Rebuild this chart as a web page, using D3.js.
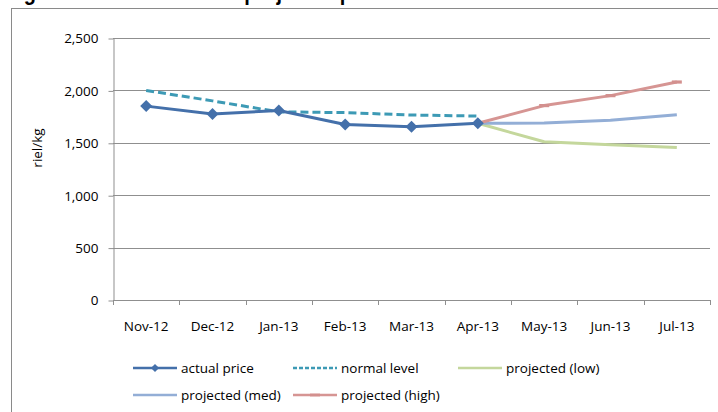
<!DOCTYPE html>
<html>
<head>
<meta charset="utf-8">
<script src="https://cdn.jsdelivr.net/npm/d3@7"></script>
<style>
  body { margin: 0; background: #fff; }
  svg { display: block; font-family: "Open Sans", sans-serif; }
</style>
</head>
<body>
<svg width="718" height="412"></svg>
<script>
var months = ['Nov-12', 'Dec-12', 'Jan-13', 'Feb-13', 'Mar-13', 'Apr-13', 'May-13', 'Jun-13', 'Jul-13'];
var actualPrice = [1850, 1775, 1808, 1675, 1652, 1686, null, null, null];
var normalLevel = [2000, 1900, 1795, 1788, 1765, 1755, null, null, null];
var projectedLow = [null, null, null, null, null, 1686, 1510, 1482, 1455];
var projectedMed = [null, null, null, null, null, 1686, 1688, 1715, 1768];
var projectedHigh = [null, null, null, null, null, 1686, 1855, 1950, 2080];
var yTicks = [0, 500, 1000, 1500, 2000, 2500];

var series = [
    {name: 'actual price', values: actualPrice, color: '#4470aa', width: 3, dash: null, marker: 'diamond'},
    {name: 'normal level', values: normalLevel, color: '#3d9ab5', width: 3, dash: '8,4', marker: null},
    {name: 'projected (low)', values: projectedLow, color: '#c4d79c', width: 3, dash: null, marker: null},
    {name: 'projected (med)', values: projectedMed, color: '#93aed6', width: 3, dash: null, marker: null},
    {name: 'projected (high)', values: projectedHigh, color: '#d69593', width: 3, dash: null, marker: 'dash'}
];

var svg = d3.select('svg');

// title of the page above, cut off at the top edge
svg.append('text')
    .attr('transform', 'translate(6,0) scale(0.87,1)')
    .style('font-family', '"Liberation Sans", Arial, sans-serif')
    .style('font-weight', 'bold')
    .style('font-size', '23px')
    .text('Figure 3: Actual rice and projected price');

// chart border
svg.append('rect')
    .attr('x', 11.5).attr('y', 8.5)
    .attr('width', 720).attr('height', 420)
    .attr('fill', 'none')
    .attr('stroke', '#8a8a8a');

var x = d3.scaleBand().domain(months).range([113, 710]).padding(0);
var y = d3.scaleLinear().domain([0, 2500]).range([300, 38]);

function cx(i) { return x(months[i]) + x.bandwidth() / 2; }

// gridlines
svg.append('g')
    .selectAll('line')
    .data(yTicks.slice(1))
    .join('line')
    .attr('x1', 113).attr('x2', 710)
    .attr('y1', function (d) { return Math.round(y(d)) + 0.5; })
    .attr('y2', function (d) { return Math.round(y(d)) + 0.5; })
    .attr('stroke', '#8f8f8f');

// y axis
var yAxis = svg.append('g')
    .attr('transform', 'translate(113.5,0.5)')
    .call(d3.axisLeft(y).tickValues(yTicks).tickFormat(d3.format(',')).tickSize(5).tickPadding(10).tickSizeOuter(0));
yAxis.select('.domain').attr('stroke', '#8f8f8f');
yAxis.selectAll('.tick line').attr('stroke', '#8f8f8f');
yAxis.selectAll('.tick text')
    .style('font-family', '"Open Sans", sans-serif')
    .style('font-size', '13.5px')
    .attr('fill', '#000');

// x axis
svg.append('line')
    .attr('x1', 113).attr('x2', 710.5)
    .attr('y1', 300.5).attr('y2', 300.5)
    .attr('stroke', '#8f8f8f');
var edges = months.map(function (m) { return x(m); }).concat([x.range()[1]]);
svg.append('g')
    .selectAll('line')
    .data(edges)
    .join('line')
    .attr('x1', function (d) { return Math.round(d) + 0.5; })
    .attr('x2', function (d) { return Math.round(d) + 0.5; })
    .attr('y1', 300).attr('y2', 305)
    .attr('stroke', '#8f8f8f');
svg.append('g')
    .selectAll('text')
    .data(months)
    .join('text')
    .attr('x', function (d, i) { return cx(i); })
    .attr('y', 331)
    .attr('text-anchor', 'middle')
    .style('font-size', '13.5px')
    .text(function (d) { return d; });

// y axis title
svg.append('text')
    .attr('transform', 'translate(42,148) rotate(-90)')
    .attr('text-anchor', 'middle')
    .style('font-size', '13.5px')
    .text('riel/kg');

// lines
var line = d3.line()
    .defined(function (d) { return d != null; })
    .x(function (d, i) { return cx(i); })
    .y(function (d) { return y(d); });

var order = [2, 3, 4, 1, 0];
order.forEach(function (k) {
    var s = series[k];
    svg.append('path')
        .datum(s.values)
        .attr('d', line)
        .attr('fill', 'none')
        .attr('stroke', s.color)
        .attr('stroke-width', s.width)
        .attr('stroke-dasharray', s.dash)
        .attr('stroke-linejoin', 'round');

    var pts = s.values.map(function (v, i) { return {v: v, i: i}; })
        .filter(function (d) { return d.v != null; });
    if (s.marker === 'diamond') {
        svg.append('g')
            .selectAll('path')
            .data(pts)
            .join('path')
            .attr('d', d3.symbol(d3.symbolSquare, 72))
            .attr('transform', function (d) { return 'translate(' + cx(d.i) + ',' + y(d.v) + ') rotate(45)'; })
            .attr('fill', s.color);
    } else if (s.marker === 'dash') {
        svg.append('g')
            .selectAll('line')
            .data(pts.slice(1))
            .join('line')
            .attr('x1', function (d) { return cx(d.i) - 5; })
            .attr('x2', function (d) { return cx(d.i) + 5; })
            .attr('y1', function (d) { return y(d.v); })
            .attr('y2', function (d) { return y(d.v); })
            .attr('stroke', '#d3908e')
            .attr('stroke-width', 3.2);
    }
});

// legend
var legendPos = [
    {x: 133, y: 368}, {x: 293, y: 368}, {x: 458, y: 368},
    {x: 133, y: 395}, {x: 293, y: 395}
];
var lg = svg.append('g')
    .selectAll('g')
    .data(series)
    .join('g')
    .attr('transform', function (d, i) { return 'translate(' + legendPos[i].x + ',' + legendPos[i].y + ')'; });
lg.append('line')
    .attr('x1', 0).attr('x2', 44)
    .attr('y1', 0).attr('y2', 0)
    .attr('stroke', function (d) { return d.color; })
    .attr('stroke-width', 2.5)
    .attr('stroke-dasharray', function (d) { return d.dash ? '4,2' : null; });
lg.filter(function (d) { return d.marker === 'diamond'; })
    .append('path')
    .attr('d', d3.symbol(d3.symbolSquare, 34))
    .attr('transform', 'translate(22,0) rotate(45)')
    .attr('fill', function (d) { return d.color; });
lg.filter(function (d) { return d.marker === 'dash'; })
    .append('line')
    .attr('x1', 17).attr('x2', 27)
    .attr('y1', 0).attr('y2', 0)
    .attr('stroke', '#d3908e')
    .attr('stroke-width', 2.8);
lg.append('text')
    .attr('x', 48)
    .attr('y', 0)
    .attr('dy', '0.35em')
    .style('font-size', '13.5px')
    .text(function (d) { return d.name; });
</script>
</body>
</html>
